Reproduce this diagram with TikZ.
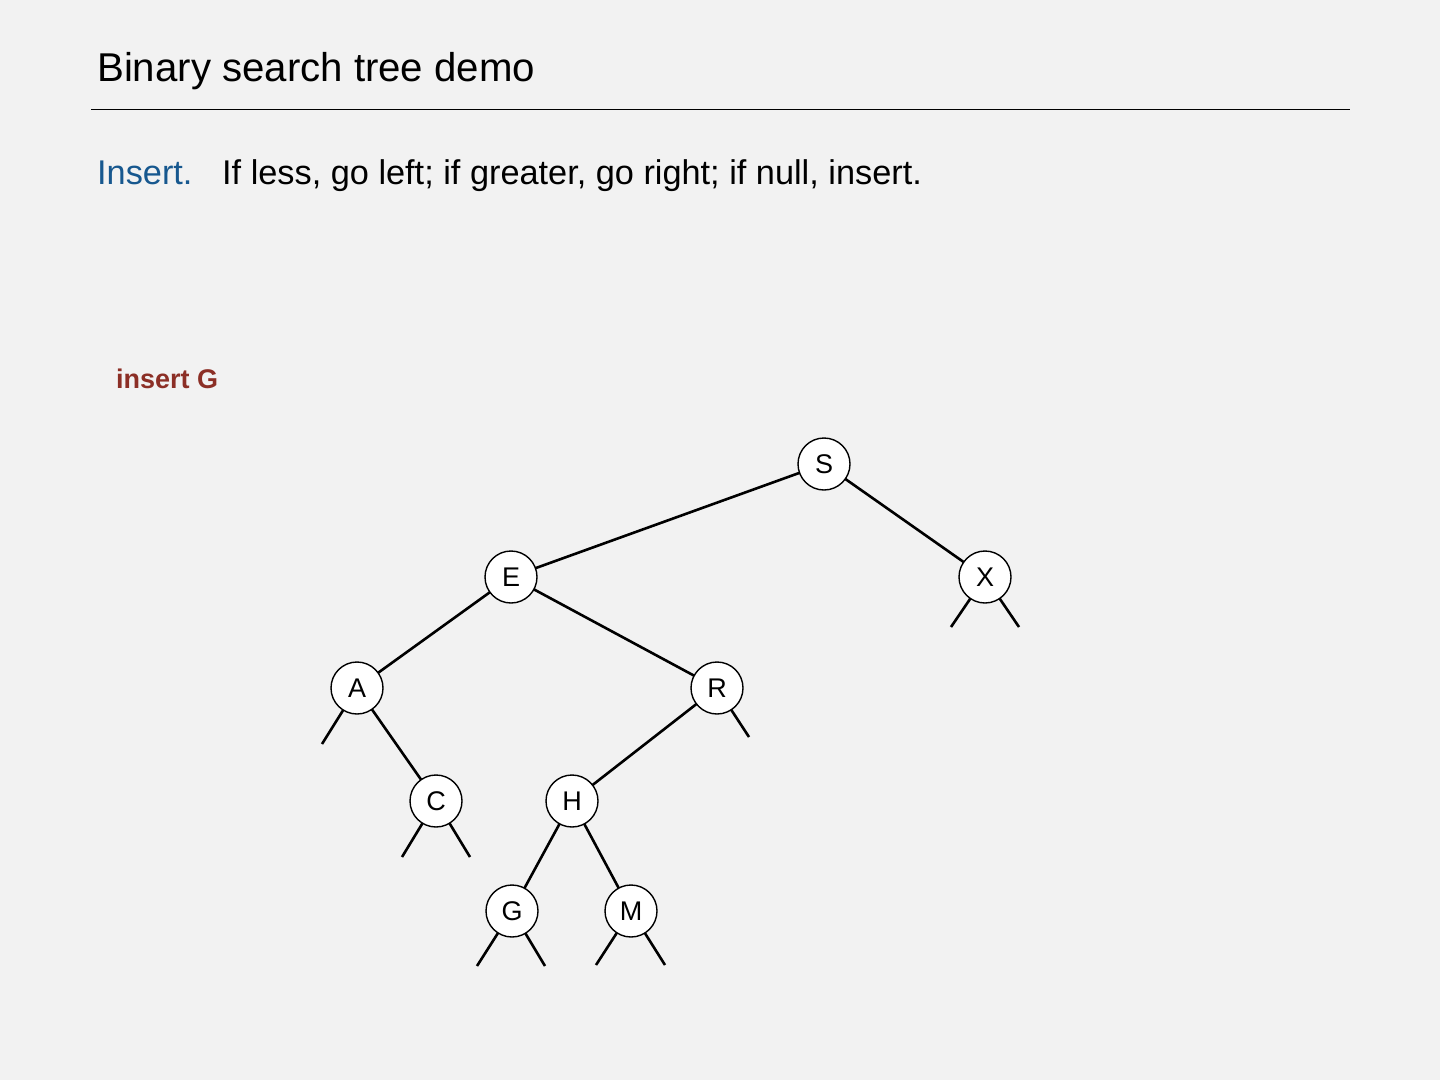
\documentclass[tikz,border=0pt]{standalone}
\usepackage{fontspec}
\setmainfont{Liberation Sans}
\definecolor{bg}{HTML}{F2F2F2}
\definecolor{insblue}{HTML}{17588F}
\definecolor{insred}{HTML}{8C2F26}
\begin{document}
\begin{tikzpicture}[x=1pt,y=-1pt,
  bstnode/.style={circle,draw=black,line width=1.4pt,fill=white,minimum size=52pt,inner sep=0pt,font=\fontsize{27}{30}\selectfont},
  link/.style={line width=2.6pt,black},
  nulllink/.style={line width=2.6pt,black}]
\fill[bg] (0,0) rectangle (1440,1080);
\useasboundingbox (0,0) rectangle (1440,1080);
% header
\node[anchor=base west,inner sep=0pt,font=\fontsize{40.2}{46}\selectfont] (title) at (97,81) {Binary search tree demo};
\draw[line width=1pt] (91,109) coordinate (rl) -- (1350,109) coordinate (rr);
\node[anchor=base west,inner sep=0pt,text=insblue,font=\fontsize{34.3}{40}\selectfont] (ins) at (97,184) {Insert.};
\node[anchor=base west,inner sep=0pt,font=\fontsize{34.3}{40}\selectfont] (rule) at (222,184) {If less, go left; if greater, go right; if null, insert.};
\node[anchor=base west,inner sep=0pt,text=insred,font=\fontsize{27}{32}\selectfont\bfseries] (op) at (116,388) {insert G};
% null link ends
\coordinate (xl) at (951,627);
\coordinate (xr) at (1019,627);
\coordinate (al) at (322,744);
\coordinate (rr2) at (749,737);
\coordinate (cl) at (402,857);
\coordinate (cr) at (470,857);
\coordinate (gl) at (477,966);
\coordinate (gr) at (545,966);
\coordinate (ml) at (596,965);
\coordinate (mr) at (665,965);
% node centres; links drawn first, nodes over them
\path (824,464) coordinate (pS) (511,577) coordinate (pE) (985,577) coordinate (pX)
      (357,688) coordinate (pA) (717,688) coordinate (pR) (436,801) coordinate (pC)
      (572,801) coordinate (pH) (512,911) coordinate (pG) (631,911) coordinate (pM);
\draw[link] (pS) -- (pE);
\draw[link] (pS) -- (pX);
\draw[link] (pE) -- (pA);
\draw[link] (pE) -- (pR);
\draw[link] (pA) -- (pC);
\draw[link] (pR) -- (pH);
\draw[link] (pH) -- (pG);
\draw[link] (pH) -- (pM);
\draw[nulllink] (pX) -- (xl);
\draw[nulllink] (pX) -- (xr);
\draw[nulllink] (pA) -- (al);
\draw[nulllink] (pR) -- (rr2);
\draw[nulllink] (pC) -- (cl);
\draw[nulllink] (pC) -- (cr);
\draw[nulllink] (pG) -- (gl);
\draw[nulllink] (pG) -- (gr);
\draw[nulllink] (pM) -- (ml);
\draw[nulllink] (pM) -- (mr);
% nodes
\node[bstnode] (S) at (pS) {S};
\node[bstnode] (E) at (pE) {E};
\node[bstnode] (X) at (pX) {X};
\node[bstnode] (A) at (pA) {A};
\node[bstnode] (R) at (pR) {R};
\node[bstnode] (C) at (pC) {C};
\node[bstnode] (H) at (pH) {H};
\node[bstnode] (G) at (pG) {G};
\node[bstnode] (M) at (pM) {M};
\end{tikzpicture}
\end{document}
